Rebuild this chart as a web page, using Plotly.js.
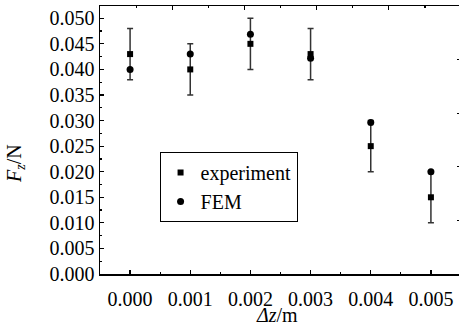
<!DOCTYPE html>
<html>
<head>
<meta charset="utf-8">
<script src="https://cdn.plot.ly/plotly-3.0.1.min.js"></script>
<style>
html,body{margin:0;padding:0;overflow:hidden;background:#fff;}
#chart{width:462px;height:326px;}
</style>
</head>
<body>
<div id="chart"></div>
<script>
const dz = [0.000, 0.001, 0.002, 0.003, 0.004, 0.005];
const experiment = [0.043, 0.040, 0.045, 0.043, 0.025, 0.015];
const experimentErr = [0.005, 0.005, 0.005, 0.005, 0.005, 0.005];
const fem = [0.040, 0.043, 0.0469, 0.0422, 0.0296, 0.0200];
const xTickVals = [0.000, 0.001, 0.002, 0.003, 0.004, 0.005];
const xTickText = ['0.000', '0.001', '0.002', '0.003', '0.004', '0.005'];
const yTickVals = [0, 0.005, 0.010, 0.015, 0.020, 0.025, 0.030, 0.035, 0.040, 0.045, 0.050];
const yTickText = ['0.000', '0.005', '0.010', '0.015', '0.020', '0.025', '0.030', '0.035', '0.040', '0.045', '0.050'];
const xTitle = '<i>Δz</i>/m';
const yTitle = '<i>F</i><sub><i>z</i></sub>/N';

const FONT = 'Liberation Serif';

const traces = [
  {
    x: dz, y: experiment, name: 'experiment', type: 'scatter', mode: 'markers',
    marker: {symbol: 'square', size: 6, color: '#000'},
    error_y: {type: 'data', array: experimentErr, visible: true, color: '#333', thickness: 1.5, width: 3},
    xaxis: 'x', yaxis: 'y'
  },
  {
    x: dz, y: fem, name: 'FEM', type: 'scatter', mode: 'markers',
    marker: {symbol: 'circle', size: 7, color: '#000'},
    xaxis: 'x', yaxis: 'y'
  },
  {
    x: [], y: [], type: 'scatter', mode: 'markers', showlegend: false, hoverinfo: 'skip',
    xaxis: 'x2', yaxis: 'y2'
  }
];

const layout = {
  width: 462, height: 326,
  margin: {l: 100, r: 1, t: 6, b: 52},
  paper_bgcolor: '#fff', plot_bgcolor: '#fff',
  font: {family: FONT, size: 20, color: '#000'},
  showlegend: true,
  legend: {
    x: 0.165, y: 0.455, xanchor: 'left', yanchor: 'top',
    bgcolor: '#fff', bordercolor: '#000', borderwidth: 1,
    font: {family: FONT, size: 20, color: '#000'},
    itemwidth: 30, tracegroupgap: 0
  },
  xaxis: {
    range: [-0.0005, 0.0055],
    tickvals: xTickVals, ticktext: xTickText,
    ticks: 'inside', ticklen: 4, tickwidth: 1.2, tickcolor: '#000',
    minor: {dtick: 0.0005, tick0: 0.0005, ticks: 'inside', ticklen: 2, tickwidth: 1.2, tickcolor: '#000'},
    showline: true, linecolor: '#000', linewidth: 1.5,
    showgrid: false, zeroline: false,
    tickfont: {family: FONT, size: 20, color: '#000'},
    ticklabelstandoff: 6
  },
  yaxis: {
    range: [0, 0.0524],
    tickvals: yTickVals, ticktext: yTickText,
    ticks: 'inside', ticklen: 4, tickwidth: 1.2, tickcolor: '#000',
    minor: {dtick: 0.0025, tick0: 0, ticks: 'inside', ticklen: 2, tickwidth: 1.2, tickcolor: '#000'},
    showline: true, linecolor: '#000', linewidth: 1.5,
    showgrid: false, zeroline: false,
    tickfont: {family: FONT, size: 20, color: '#000'}
  },
  xaxis2: {
    overlaying: 'x', side: 'top', range: [0, 5], dtick: 1, tick0: 0,
    ticks: 'inside', ticklen: 4, tickwidth: 1.2, tickcolor: '#000',
    minor: {dtick: 0.5, ticks: 'inside', ticklen: 2, tickwidth: 1.2, tickcolor: '#000'},
    showticklabels: false, showline: true, linecolor: '#000', linewidth: 1.5,
    showgrid: false, zeroline: false
  },
  yaxis2: {
    overlaying: 'y', side: 'right', range: [0, 5], dtick: 1, tick0: 0,
    ticks: 'inside', ticklen: 4, tickwidth: 1.2, tickcolor: '#000',
    minor: {dtick: 0.5, ticks: 'inside', ticklen: 2, tickwidth: 1.2, tickcolor: '#000'},
    showticklabels: false, showline: true, linecolor: '#000', linewidth: 1.5,
    showgrid: false, zeroline: false
  },
  annotations: [
    {text: xTitle, xref: 'paper', yref: 'paper', x: 0.49, y: -0.152, xanchor: 'center', yanchor: 'middle',
     showarrow: false, font: {family: FONT, size: 20, color: '#000'}},
    {text: yTitle, xref: 'paper', yref: 'paper', x: -0.2355, y: 0.414, xanchor: 'center', yanchor: 'middle',
     textangle: -90, showarrow: false, font: {family: FONT, size: 20, color: '#000'}}
  ]
};

Plotly.newPlot('chart', traces, layout, {displayModeBar: false, staticPlot: true});
</script>
</body>
</html>
